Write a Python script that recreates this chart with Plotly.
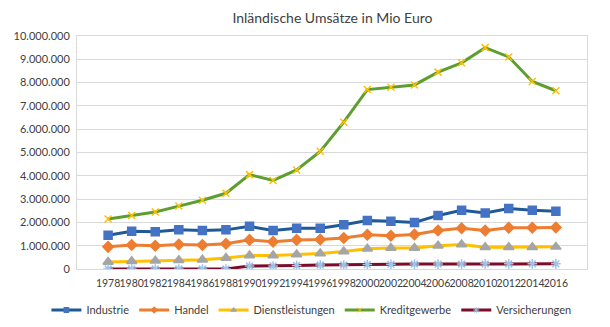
import plotly.graph_objects as go

years = [str(y) for y in range(1978, 2017, 2)]

industrie = [1450000, 1620000, 1600000, 1680000, 1650000, 1680000, 1830000, 1650000, 1750000, 1750000,
             1900000, 2080000, 2050000, 2000000, 2300000, 2520000, 2400000, 2600000, 2520000, 2480000]
handel = [950000, 1030000, 1000000, 1050000, 1030000, 1080000, 1250000, 1170000, 1250000, 1270000,
          1330000, 1470000, 1430000, 1480000, 1650000, 1750000, 1650000, 1770000, 1770000, 1780000]
dienstleistungen = [300000, 330000, 350000, 380000, 400000, 470000, 580000, 580000, 620000, 670000,
                    750000, 870000, 900000, 900000, 1000000, 1050000, 930000, 930000, 930000, 950000]
kreditgewerbe = [2150000, 2300000, 2450000, 2700000, 2950000, 3250000, 4050000, 3800000, 4250000, 5050000,
                 6300000, 7700000, 7800000, 7900000, 8450000, 8850000, 9500000, 9100000, 8050000, 7650000]
versicherungen = [0, 0, 0, 0, 0, 0, 130000, 130000, 150000, 170000,
                  170000, 190000, 200000, 210000, 210000, 210000, 220000, 220000, 220000, 220000]

series = [
    ("Industrie", industrie, "#1F5A96", "square", "#4472C4", 8),
    ("Handel", handel, "#ED7D31", "diamond", "#ED7D31", 8),
    ("Dienstleistungen", dienstleistungen, "#FFC000", "triangle-up", "#A5A5A5", 9),
    ("Kreditgewerbe", kreditgewerbe, "#5E9E2F", "x-thin", "#FFC000", 7),
    ("Versicherungen", versicherungen, "#7B0C2A", "asterisk", "#9DC3E6", 8),
]

fig = go.Figure()
for name, vals, lc, sym, mc, ms in series:
    fig.add_trace(go.Scatter(
        x=years, y=vals, name=name, mode="lines+markers", legendgroup=name,
        showlegend=False,
        line=dict(color=lc, width=3),
        marker=dict(symbol=sym, color=mc, size=ms,
                    line=dict(color=mc, width=1.5)),
    ))
    # legend entry with smaller marker
    fig.add_trace(go.Scatter(
        x=[None], y=[None], name=name, mode="lines+markers", legendgroup=name,
        line=dict(color=lc, width=3),
        marker=dict(symbol=sym, color=mc, size=5,
                    line=dict(color=mc, width=1)),
    ))

fig.update_layout(
    width=610, height=327,
    margin=dict(l=77, r=23, t=36, b=58, autoexpand=False),
    paper_bgcolor="white", plot_bgcolor="white",
    separators=",.",
    font=dict(family="Lato, Open Sans, sans-serif", size=11, color="#404040"),
    title=dict(text="Inländische Umsätze in Mio Euro", x=0.545, xanchor="center",
               y=0.945, yanchor="middle", font=dict(size=14, color="#404040")),
    showlegend=True,
    legend=dict(orientation="h", x=-0.06, xanchor="left", y=-0.176, yanchor="middle",
                font=dict(size=11), itemwidth=30, tracegroupgap=0),
    xaxis=dict(type="category", showgrid=False, showline=True, linecolor="#D9D9D9",
               ticks="", ticklabelstandoff=4, tickangle=0, mirror=True,
               tickfont=dict(size=10.5)),
    yaxis=dict(range=[0, 10000000], dtick=1000000, tickformat=",d",
               showgrid=True, gridcolor="#D9D9D9", gridwidth=1,
               showline=True, linecolor="#D9D9D9", mirror=True,
               zeroline=False, ticks="", ticklabelstandoff=4, tickfont=dict(size=11)),
)

fig.write_html("out.html")
